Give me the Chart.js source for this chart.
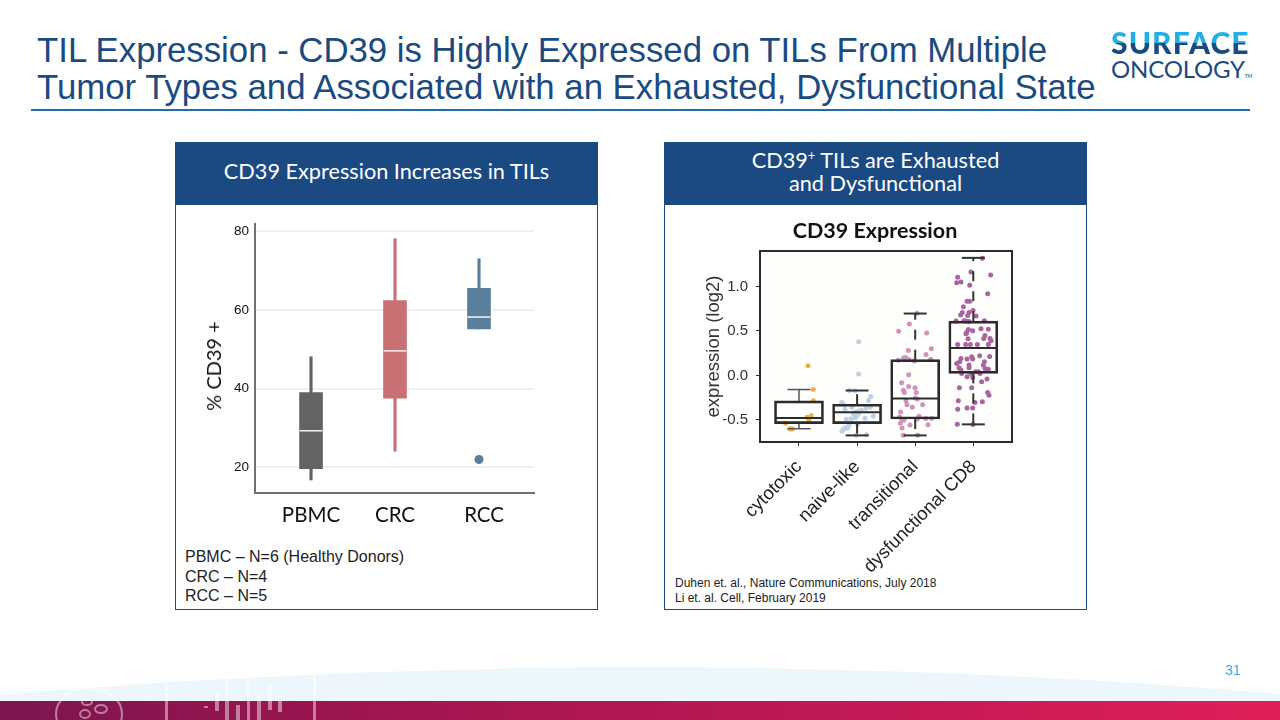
<!DOCTYPE html>
<html>
<head>
<meta charset="utf-8">
<title>TIL Expression - CD39</title>
<script src="https://cdn.jsdelivr.net/npm/chart.js@4"></script>
<style>
	html, body { margin: 0; padding: 0; background: #fff; }
	#slide { position: relative; width: 1280px; height: 720px; overflow: hidden; background: #fff; font-family: "Liberation Sans", Arial, sans-serif; }
	#slide > * { position: absolute; }
	#heading { left: 37px; top: 32px; margin: 0; font-size: 34.75px; line-height: 37px; font-weight: normal; color: #1a4a82; white-space: nowrap; }
	#rule { left: 31px; top: 109px; width: 1219px; height: 2px; background: #1f6dab; }
	.logo1 { left: 1111px; top: 24px; font: 900 30px/36px Lato, sans-serif; letter-spacing: 1.1px; color: transparent; background: linear-gradient(#22aee6 0 19px, #1a4a82 19px 36px); -webkit-background-clip: text; background-clip: text; }
	.logo2 { left: 1111px; top: 55px; font: 400 24px/27px Lato, sans-serif; color: #1a4a82; letter-spacing: -0.2px; }
	.logo2 sup { font-size: 5px; vertical-align: 0; }
	.panel { top: 142px; width: 421px; height: 466px; border: 1.5px solid #1b4a83; box-sizing: content-box; }
	.panel .head { height: 62px; box-sizing: border-box; padding-bottom: 5px; background: #1b4a83; color: #fff; font: 21.7px/23px Lato, sans-serif; text-align: center; display: flex; align-items: center; justify-content: center; }
	.panel .head sup { font-size: 13px; line-height: 0; }
	canvas { position: absolute; }
	#pct { left: 213px; top: 366px; transform: translate(-50%, -50%) rotate(-90deg); font: 20px Lato, sans-serif; color: #111; white-space: nowrap; }
	#plotTitle { left: 875px; top: 230px; transform: translate(-50%, -50%); font: bold 21.5px Lato, sans-serif; color: #111; white-space: nowrap; }
	.note { color: #222; white-space: nowrap; }
	#note1 { left: 185px; top: 547px; font-size: 16px; line-height: 19.5px; }
	#note2 { left: 675px; top: 576px; font-size: 12px; line-height: 15px; }
	#page { left: 1225px; top: 662px; font-size: 14px; color: #3fa9dc; }
	#footer { left: 0; top: 640px; }
</style>
</head>
<body>
<div id="slide">
	<h1 id="heading">TIL Expression - CD39 is Highly Expressed on TILs From Multiple<br>Tumor Types and Associated with an Exhausted, Dysfunctional State</h1>
	<div id="rule"></div>
	<div class="logo1">SURFACE</div>
	<div class="logo2">ONCOLOGY<sup>TM</sup></div>

	<div class="panel" style="left:175px"><div class="head">CD39 Expression Increases in TILs</div></div>
	<div class="panel" style="left:664px"><div class="head"><span>CD39<sup>+</sup> TILs are Exhausted<br>and Dysfunctional</span></div></div>

	<canvas id="leftChart" width="370" height="325" style="left:180px;top:210px"></canvas>
	<canvas id="rightChart" width="410" height="360" style="left:670px;top:215px"></canvas>
	<div id="pct">% CD39 +</div>
	<div id="plotTitle">CD39 Expression</div>

	<div id="note1" class="note">PBMC – N=6 (Healthy Donors)<br>CRC – N=4<br>RCC – N=5</div>
	<div id="note2" class="note">Duhen et. al., Nature Communications, July 2018<br>Li et. al. Cell, February 2019</div>

	<svg id="footer" width="1280" height="80" viewBox="0 640 1280 80">
		<defs>
			<linearGradient id="band" x1="0" x2="1" y1="0" y2="0">
				<stop offset="0" stop-color="#7c1550"/>
				<stop offset="0.33" stop-color="#a3154f"/>
				<stop offset="0.72" stop-color="#c61a55"/>
				<stop offset="1" stop-color="#e01f5a"/>
			</linearGradient>
		</defs>
		<path d="M0 695 Q640 640 1280 694 L1280 701 L0 701 Z" fill="#edf7fb"/>
		<rect x="0" y="701" width="1280" height="19" fill="url(#band)"/>
		<g fill="none" stroke="#fff" stroke-opacity="0.45" stroke-width="2">
			<ellipse cx="89" cy="714" rx="33" ry="26"/>
			<ellipse cx="87" cy="702" rx="5" ry="3"/>
			<ellipse cx="101" cy="709" rx="6" ry="4"/>
			<ellipse cx="85" cy="714" rx="5" ry="4"/>
		</g>
		<g fill="#fff" fill-opacity="0.45">
			<rect x="165" y="684" width="3" height="36"/>
			<rect x="313" y="675" width="3" height="45"/>
			<rect x="215" y="692" width="4" height="19"/>
			<rect x="225" y="680" width="4" height="40"/>
			<rect x="236" y="705" width="4" height="15"/>
			<rect x="247" y="677" width="3" height="43"/>
			<rect x="257" y="693" width="4" height="27"/>
			<rect x="268" y="685" width="4" height="25"/>
			<rect x="278" y="696" width="4" height="16"/>
			<rect x="204" y="706" width="4" height="2"/>
		</g>
	</svg>
	<div id="page">31</div>
</div>

<script>
// left chart - % CD39 positive by sample source
const sources = ["PBMC", "CRC", "RCC"];
const sourcePositions = [0, 1, 2];
const sourceLabelPositions = [0, 1, 2.06];
const sourceLow = [16.8, 24.1, 55.2];
const sourceQ1 = [19.7, 37.6, 55.2];
const sourceMedian = [29.3, 49.6, 58.2];
const sourceQ3 = [39, 62.4, 65.5];
const sourceHigh = [48.1, 78.1, 73];
const sourceOutlierX = [2];
const sourceOutlierY = [22];
const sourceTicks = [20, 40, 60, 80];

// right chart - CD39 expression by T cell state
const states = ["cytotoxic", "naive-like", "transitional", "dysfunctional CD8"];
const statePositions = [0, 1, 2, 3];
const stateLow = [-0.598, -0.673, -0.673, -0.549];
const stateQ1 = [-0.541, -0.541, -0.489, 0.023];
const stateMedian = [-0.477, -0.414, -0.259, 0.308];
const stateQ3 = [-0.286, -0.323, 0.177, 0.609];
const stateHigh = [-0.158, -0.169, 0.695, 1.32];
const stateTicks = [-0.5, 0, 0.5, 1];

const cytotoxicX = [0.155, 0.247, 0.247, 0.212, 0.138, 0.172, -0.229, -0.155, -0.115, -0.138];
const cytotoxicY = [0.108, -0.158, -0.285, -0.45, -0.469, -0.507, -0.537, -0.597, -0.6, -0.6];

const naiveX = [1.027, 1.027, 0.867, 0.964, 1.234, 1.199, 0.735, 0.763, 0.912, 0.792, 1.228, 1.148, 1.067, 1.021, 0.976, 0.935, 1.027, 1.28, 0.815, 0.895, 1.136, 0.993, 0.964, 0.861, 0.838, 0.792, 0.763, 0.74, 1.01, 0.987, 1.165];
const naiveY = [0.379, 0.015, -0.169, -0.172, -0.236, -0.281, -0.304, -0.322, -0.356, -0.379, -0.356, -0.371, -0.39, -0.401, -0.409, -0.427, -0.427, -0.457, -0.491, -0.487, -0.48, -0.457, -0.476, -0.559, -0.589, -0.589, -0.607, -0.626, -0.547, -0.671, -0.667];

const transitionalX = [2.031, 1.899, 1.715, 2.197, 2.277, 1.882, 2.186, 2.266, 1.709, 1.801, 1.836, 1.893, 1.985, 1.887, 1.767, 1.887, 1.996, 1.796, 1.813, 2.019, 2.002, 2.037, 1.841, 1.859, 2.128, 1.95, 1.75, 1.732, 1.778, 1.807, 2.065, 2.037, 2.18, 2.283, 1.744, 1.91, 2.22, 1.773, 1.796, 2.042];
const transitionalY = [0.697, 0.577, 0.495, 0.476, 0.3, 0.281, 0.236, 0.183, 0.172, 0.195, 0.202, 0.18, 0.161, 0.007, -0.083, -0.124, -0.139, -0.165, -0.192, -0.192, -0.252, -0.263, -0.285, -0.33, -0.33, -0.357, -0.409, -0.465, -0.495, -0.503, -0.458, -0.488, -0.484, -0.484, -0.537, -0.555, -0.552, -0.589, -0.672, -0.672];

const dysfunctionalX = [3.156, 2.96, 3.299, 2.731, 2.714, 2.788, 2.938, 3.247, 2.892, 2.938, 2.829, 2.995, 2.811, 2.926, 2.783, 2.903, 3.047, 2.702, 2.84, 2.874, 2.926, 3.19, 2.915, 2.886, 2.989, 3.133, 3.259, 2.874, 3.201, 2.909, 3.178, 3.288, 3.305, 2.731, 2.869, 2.949, 3.07, 3.259, 3.11, 3.282, 2.788, 2.892, 2.972, 2.989, 2.765, 3.19, 2.714, 2.926, 3.173, 2.754, 2.926, 3.259, 2.788, 3.201, 2.8, 2.96, 3.041, 3.087, 3.115, 2.892, 2.989, 3.236, 3.144, 2.76, 2.972, 3.247, 3.27, 2.742, 3.029, 3.156, 2.731, 2.892, 2.989, 2.725, 2.995];
const dysfunctionalY = [1.315, 1.162, 1.128, 1.102, 1.042, 1.049, 1.012, 0.918, 0.832, 0.832, 0.772, 0.73, 0.708, 0.708, 0.678, 0.674, 0.667, 0.61, 0.614, 0.61, 0.607, 0.614, 0.517, 0.483, 0.502, 0.524, 0.52, 0.468, 0.449, 0.412, 0.415, 0.415, 0.389, 0.348, 0.348, 0.348, 0.348, 0.348, 0.221, 0.214, 0.191, 0.184, 0.21, 0.184, 0.154, 0.154, 0.135, 0.116, 0.116, 0.086, 0.086, 0.071, 0.06, 0.079, 0.022, 0.022, 0.041, 0.041, 0.022, -0.015, -0.023, -0.041, -0.071, -0.139, -0.139, -0.191, -0.221, -0.285, -0.304, -0.296, -0.379, -0.364, -0.364, -0.548, -0.551];

const sourceColors = ["#636363", "#c87073", "#5a7f9c"];

const zip = (xs, ys) => xs.map((x, i) => ({ x: x, y: ys[i] }));
const ranges = (xs, lows, highs) => xs.map((x, i) => ({ x: x, y: [lows[i], highs[i]] }));

new Chart(document.getElementById("leftChart"), {
	type: "bar",
	data: {
		datasets: [
			{
				data: ranges(sourcePositions, sourceLow, sourceHigh),
				backgroundColor: sourceColors,
				barThickness: 2.5,
				grouped: false,
				order: 3,
			},
			{
				data: ranges(sourcePositions, sourceQ1, sourceQ3),
				backgroundColor: sourceColors,
				barThickness: 23,
				grouped: false,
				order: 2,
			},
			{
				type: "scatter",
				data: zip(sourcePositions, sourceMedian),
				pointStyle: "line",
				pointRadius: 11.5,
				pointBorderWidth: 1.5,
				pointBorderColor: "#f4f4f4",
				order: 1,
			},
			{
				type: "scatter",
				data: zip(sourceOutlierX, sourceOutlierY),
				pointRadius: 4.5,
				pointBorderWidth: 0,
				pointBackgroundColor: sourceColors[2],
				order: 1,
			},
		],
	},
	options: {
		responsive: false,
		animation: false,
		layout: { autoPadding: false, padding: { top: 3, right: 16 } },
		plugins: { legend: { display: false }, tooltip: { enabled: false } },
		scales: {
			x: {
				type: "linear",
				offset: false,
				min: -0.667,
				max: 2.655,
				afterFit: (scale) => { scale.height = 42; },
				afterBuildTicks: (scale) => { scale.ticks = sourceLabelPositions.map((v) => ({ value: v })); },
				grid: { display: false, offset: false, drawTicks: false },
				border: { color: "#707070", width: 2 },
				ticks: {
					autoSkip: false,
					maxRotation: 0,
					padding: 10,
					color: "#111",
					font: { family: "Lato", size: 20.5 },
					callback: (value, index) => sources[index],
				},
			},
			y: {
				min: 13.5,
				max: 81.8,
				afterFit: (scale) => { scale.width = 75; },
				afterBuildTicks: (scale) => { scale.ticks = sourceTicks.map((v) => ({ value: v })); },
				grid: { color: "#f0f0f0", lineWidth: 2, drawTicks: false },
				border: { color: "#707070", width: 2 },
				ticks: {
					padding: 6,
					color: "#111",
					font: { family: "Liberation Sans", size: 13.5 },
				},
			},
		},
	},
});

// background and closed frame of the plot box
const plotFrame = {
	id: "plotFrame",
	beforeDatasetsDraw(chart) {
		const { ctx, chartArea: a } = chart;
		ctx.save();
		ctx.fillStyle = "#fefefc";
		ctx.fillRect(a.left, a.top, a.width, a.height);
		ctx.restore();
	},
	afterDraw(chart) {
		const { ctx, chartArea: a } = chart;
		ctx.save();
		ctx.strokeStyle = "#2b2b2b";
		ctx.lineWidth = 2;
		ctx.strokeRect(a.left, a.top, a.width, a.height);
		ctx.restore();
	},
};

const capDataset = (x, y, thin) => ({
	type: "scatter",
	data: [{ x: x, y: y }],
	pointStyle: "line",
	pointRadius: 11.5,
	pointBorderWidth: thin ? 1.5 : 2,
	pointBorderColor: thin ? "#555" : "#333",
	order: 3,
});

const whiskerDataset = (x, from, to, thin) => ({
	type: "scatter",
	data: [{ x: x, y: from }, { x: x, y: to }],
	showLine: true,
	pointRadius: 0,
	borderColor: thin ? "#555" : "#333",
	borderWidth: thin ? 1.5 : 2,
	borderDash: thin ? [] : [10, 10],
	order: 3,
});

const whiskers = [];
statePositions.forEach((x, i) => {
	const thin = i === 0;
	whiskers.push(whiskerDataset(x, stateQ3[i], stateHigh[i], thin));
	whiskers.push(whiskerDataset(x, stateQ1[i], stateLow[i], thin));
	whiskers.push(capDataset(x, stateHigh[i], thin));
	whiskers.push(capDataset(x, stateLow[i], thin));
});

const cloud = (xs, ys, color) => ({
	type: "scatter",
	data: zip(xs, ys),
	pointRadius: 2.5,
	pointBorderWidth: 0,
	pointBackgroundColor: color,
	order: 5,
});

new Chart(document.getElementById("rightChart"), {
	type: "bar",
	data: {
		datasets: [
			{
				data: ranges(statePositions, stateQ1, stateQ3),
				backgroundColor: "rgba(0,0,0,0)",
				borderColor: "#2b2b2b",
				borderWidth: 2,
				borderSkipped: false,
				barThickness: 49,
				grouped: false,
				order: 2,
			},
			{
				type: "scatter",
				data: zip(statePositions, stateMedian),
				pointStyle: "line",
				pointRadius: 24,
				pointBorderWidth: 2,
				pointBorderColor: "#2b2b2b",
				order: 1,
			},
			...whiskers,
			cloud(cytotoxicX, cytotoxicY, "#efb33e"),
			cloud(naiveX, naiveY, "#bcd0e6"),
			cloud(transitionalX, transitionalY, "#cf94bc"),
			cloud(dysfunctionalX, dysfunctionalY, "#a8659f"),
		],
	},
	options: {
		responsive: false,
		animation: false,
		layout: { autoPadding: false, padding: { top: 36, right: 68 } },
		plugins: { legend: { display: false }, tooltip: { enabled: false } },
		scales: {
			x: {
				type: "linear",
				offset: false,
				min: -0.671,
				max: 3.666,
				afterFit: (scale) => { scale.height = 133; },
				afterBuildTicks: (scale) => { scale.ticks = statePositions.map((v) => ({ value: v })); },
				grid: { offset: false, drawOnChartArea: false, color: "#333", tickLength: 4 },
				border: { display: false },
				ticks: {
					autoSkip: false,
					minRotation: 45,
					maxRotation: 45,
					padding: 10,
					color: "#222",
					font: { family: "Liberation Sans", size: 18.5 },
					callback: (value, index) => states[index],
				},
			},
			y: {
				min: -0.747,
				max: 1.397,
				afterFit: (scale) => { scale.width = 90; },
				afterBuildTicks: (scale) => { scale.ticks = stateTicks.map((v) => ({ value: v })); },
				grid: { drawOnChartArea: false, color: "#333", tickLength: 4 },
				border: { display: false },
				title: {
					display: true,
					text: "expression (log2)",
					color: "#333",
					font: { family: "Liberation Sans", size: 18.5, lineHeight: 1.2 },
					padding: { top: 33, bottom: 0 },
				},
				ticks: {
					padding: 8,
					color: "#333",
					font: { family: "Liberation Sans", size: 15 },
					callback: (value) => value.toFixed(1),
				},
			},
		},
	},
	plugins: [plotFrame],
});
</script>
</body>
</html>
